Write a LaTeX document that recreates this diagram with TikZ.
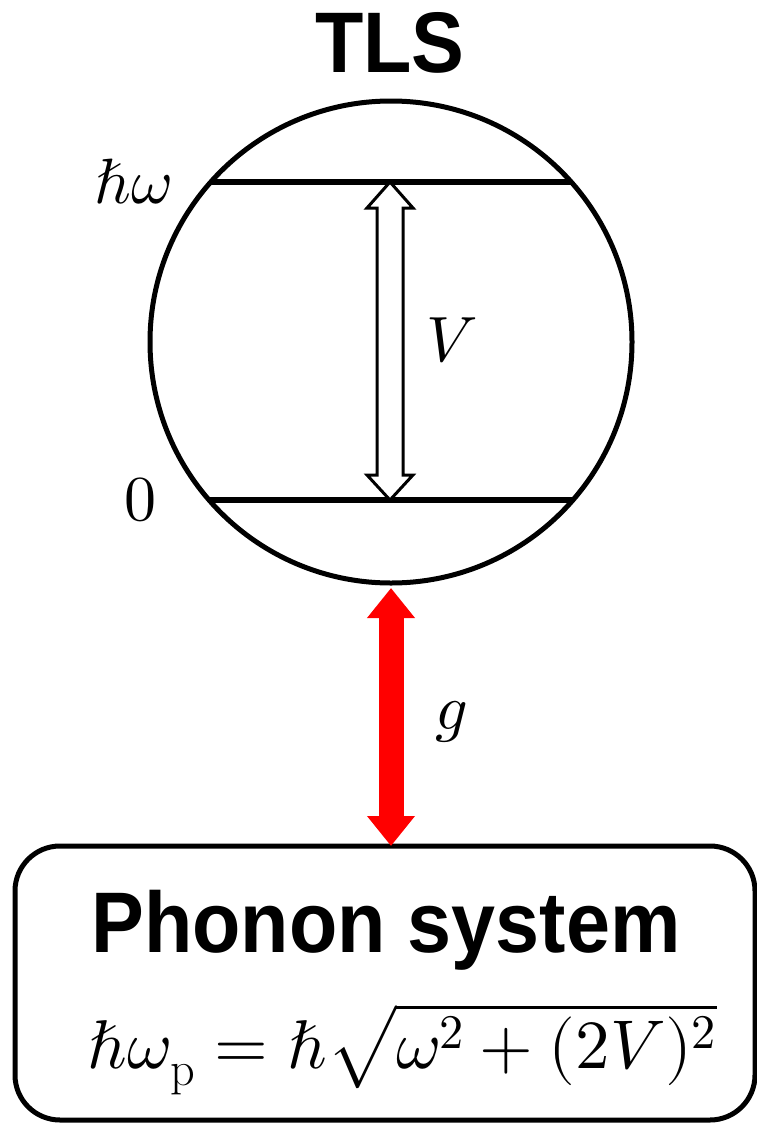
\documentclass[tikz,border=0pt]{standalone}
\usepackage{fontspec}
\usepackage{unicode-math}
\setmathfont{Latin Modern Math}
\usetikzlibrary{arrows.meta,calc}
\newfontfamily\headfont[FakeStretch=0.92]{Liberation Sans Bold}
\tikzset{
  every picture/.style={x=1pt,y=-1pt},
  title/.style={font=\headfont\fontsize{86}{96}\selectfont, inner sep=0pt},
  mathlbl/.style={font=\fontsize{64}{72}\selectfont, inner sep=0pt},
  formulastyle/.style={font=\fontsize{69}{78}\selectfont, inner sep=0pt},
  level/.style={line width=6.5pt},
  openarrow/.style={draw=black, fill=white, line width=3pt, line join=miter},
  coupling/.style={draw=red, line width=25pt,
    {Triangle[width=46pt,length=30pt]}-{Triangle[width=46pt,length=30pt]}},
}
\begin{document}
\begin{tikzpicture}
\useasboundingbox (0,0) rectangle (757,1124);
% TLS circle
\node[draw, circle, line width=5pt, minimum size=482pt, inner sep=0pt, outer sep=0pt] (tls) at (391,342) {};
\node[title, anchor=base] (tlstitle) at (390,73) {TLS};
% levels
\coordinate (hiL) at ($(tls.center)+(-180,-160)$);
\coordinate (hiR) at ($(tls.center)+(180,-160)$);
\coordinate (loL) at ($(tls.center)+(-182,158)$);
\coordinate (loR) at ($(tls.center)+(182,158)$);
\draw[level] (hiL) -- (hiR);
\draw[level] (loL) -- (loR);
\coordinate (top) at ($(tls.center)+(-1,-160)$);
\coordinate (bot) at ($(tls.center)+(-1,158)$);
% open double arrow
\draw[openarrow] (top) -- ($(top)+(23,26)$) -- ($(top)+(13,26)$) -- ($(bot)+(13,-25)$) -- ($(bot)+(23,-25)$) -- (bot)
  -- ($(bot)+(-23,-25)$) -- ($(bot)+(-13,-25)$) -- ($(top)+(-13,26)$) -- ($(top)+(-23,26)$) -- cycle;
% labels
\node[mathlbl, anchor=base east] (hw) at (172,203) {$\hbar\omega$};
\node[mathlbl] (zero) at (140,500) {$0$};
\node[mathlbl] (vlbl) at (452,340) {$V$};
\node[mathlbl] (glbl) at (452,722) {$g$};
% phonon box
\node[draw, line width=5pt, rounded corners=45pt, minimum width=740pt, minimum height=274pt, inner sep=0pt, outer sep=0pt] (phonon) at (385,983) {};
\node[title, anchor=base] (phtitle) at (386,952) {Phonon system};
\node[formulastyle, anchor=base] (formula) at (402,1068) {$\hbar\omega_{\mathrm{p}} = \hbar\sqrt{\omega^2 + (2V)^2}$};
% coupling arrow
\draw[coupling, shorten <=5pt] (tls.south) -- (tls.south |- phonon.north);
\end{tikzpicture}
\end{document}
